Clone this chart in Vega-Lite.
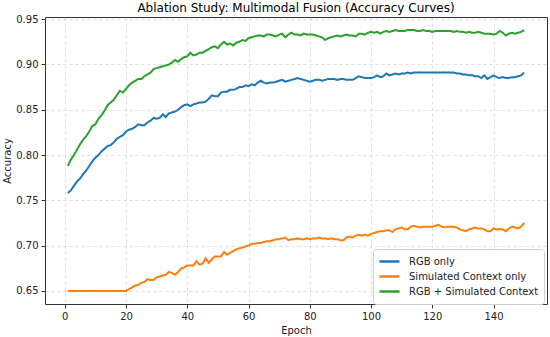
{
  "$schema": "https://vega.github.io/schema/vega-lite/v6.json",
  "width": 502,
  "height": 287,
  "autosize": {"type": "none"},
  "padding": {"left": 45, "top": 17, "right": 3, "bottom": 33},
  "background": "white",
  "title": {"text": "Ablation Study: Multimodal Fusion (Accuracy Curves)", "font": "DejaVu Sans", "fontSize": 12, "fontWeight": "normal", "color": "#000", "anchor": "middle", "offset": -1},
  "config": {
    "view": {"stroke": "#333", "strokeWidth": 1},
    "font": "DejaVu Sans"
  },
  "data": {"values": [
{"epoch":1,"a":0.758,"b":0.650,"c":0.788},
{"epoch":2,"a":0.761,"b":0.650,"c":0.795},
{"epoch":3,"a":0.766,"b":0.650,"c":0.800},
{"epoch":4,"a":0.771,"b":0.650,"c":0.806},
{"epoch":5,"a":0.774,"b":0.650,"c":0.812},
{"epoch":6,"a":0.779,"b":0.650,"c":0.817},
{"epoch":7,"a":0.783,"b":0.650,"c":0.821},
{"epoch":8,"a":0.788,"b":0.650,"c":0.826},
{"epoch":9,"a":0.793,"b":0.650,"c":0.832},
{"epoch":10,"a":0.797,"b":0.650,"c":0.834},
{"epoch":11,"a":0.800,"b":0.650,"c":0.840},
{"epoch":12,"a":0.804,"b":0.650,"c":0.844},
{"epoch":13,"a":0.807,"b":0.650,"c":0.849},
{"epoch":14,"a":0.810,"b":0.650,"c":0.855},
{"epoch":15,"a":0.811,"b":0.650,"c":0.858},
{"epoch":16,"a":0.814,"b":0.650,"c":0.861},
{"epoch":17,"a":0.818,"b":0.650,"c":0.866},
{"epoch":18,"a":0.820,"b":0.650,"c":0.871},
{"epoch":19,"a":0.822,"b":0.650,"c":0.869},
{"epoch":20,"a":0.826,"b":0.650,"c":0.873},
{"epoch":21,"a":0.828,"b":0.652,"c":0.877},
{"epoch":22,"a":0.829,"b":0.654,"c":0.880},
{"epoch":23,"a":0.831,"b":0.656,"c":0.882},
{"epoch":24,"a":0.834,"b":0.657,"c":0.884},
{"epoch":25,"a":0.833,"b":0.659,"c":0.884},
{"epoch":26,"a":0.833,"b":0.660,"c":0.887},
{"epoch":27,"a":0.836,"b":0.663,"c":0.889},
{"epoch":28,"a":0.838,"b":0.662,"c":0.891},
{"epoch":29,"a":0.841,"b":0.662,"c":0.895},
{"epoch":30,"a":0.840,"b":0.665,"c":0.896},
{"epoch":31,"a":0.841,"b":0.666,"c":0.897},
{"epoch":32,"a":0.845,"b":0.667,"c":0.898},
{"epoch":33,"a":0.842,"b":0.668,"c":0.899},
{"epoch":34,"a":0.846,"b":0.671,"c":0.900},
{"epoch":35,"a":0.847,"b":0.670,"c":0.902},
{"epoch":36,"a":0.848,"b":0.668,"c":0.905},
{"epoch":37,"a":0.850,"b":0.671,"c":0.903},
{"epoch":38,"a":0.853,"b":0.675,"c":0.906},
{"epoch":39,"a":0.855,"b":0.676,"c":0.908},
{"epoch":40,"a":0.856,"b":0.678,"c":0.909},
{"epoch":41,"a":0.854,"b":0.678,"c":0.913},
{"epoch":42,"a":0.856,"b":0.678,"c":0.910},
{"epoch":43,"a":0.857,"b":0.683,"c":0.911},
{"epoch":44,"a":0.858,"b":0.679,"c":0.913},
{"epoch":45,"a":0.858,"b":0.680,"c":0.913},
{"epoch":46,"a":0.859,"b":0.686,"c":0.915},
{"epoch":47,"a":0.862,"b":0.681,"c":0.917},
{"epoch":48,"a":0.866,"b":0.685,"c":0.919},
{"epoch":49,"a":0.865,"b":0.688,"c":0.920},
{"epoch":50,"a":0.865,"b":0.688,"c":0.918},
{"epoch":51,"a":0.869,"b":0.688,"c":0.922},
{"epoch":52,"a":0.870,"b":0.693,"c":0.925},
{"epoch":53,"a":0.870,"b":0.690,"c":0.922},
{"epoch":54,"a":0.872,"b":0.692,"c":0.923},
{"epoch":55,"a":0.872,"b":0.694,"c":0.921},
{"epoch":56,"a":0.873,"b":0.696,"c":0.924},
{"epoch":57,"a":0.875,"b":0.697,"c":0.925},
{"epoch":58,"a":0.875,"b":0.698,"c":0.927},
{"epoch":59,"a":0.877,"b":0.699,"c":0.926},
{"epoch":60,"a":0.876,"b":0.700,"c":0.929},
{"epoch":61,"a":0.878,"b":0.702,"c":0.930},
{"epoch":62,"a":0.877,"b":0.702,"c":0.931},
{"epoch":63,"a":0.880,"b":0.703,"c":0.932},
{"epoch":64,"a":0.882,"b":0.703,"c":0.932},
{"epoch":65,"a":0.880,"b":0.704,"c":0.931},
{"epoch":66,"a":0.879,"b":0.705,"c":0.933},
{"epoch":67,"a":0.880,"b":0.705,"c":0.933},
{"epoch":68,"a":0.880,"b":0.706,"c":0.932},
{"epoch":69,"a":0.881,"b":0.707,"c":0.931},
{"epoch":70,"a":0.882,"b":0.707,"c":0.933},
{"epoch":71,"a":0.883,"b":0.708,"c":0.934},
{"epoch":72,"a":0.881,"b":0.709,"c":0.930},
{"epoch":73,"a":0.882,"b":0.706,"c":0.933},
{"epoch":74,"a":0.883,"b":0.707,"c":0.935},
{"epoch":75,"a":0.884,"b":0.707,"c":0.933},
{"epoch":76,"a":0.885,"b":0.708,"c":0.933},
{"epoch":77,"a":0.884,"b":0.707,"c":0.932},
{"epoch":78,"a":0.883,"b":0.707,"c":0.934},
{"epoch":79,"a":0.882,"b":0.708,"c":0.933},
{"epoch":80,"a":0.881,"b":0.707,"c":0.933},
{"epoch":81,"a":0.882,"b":0.708,"c":0.933},
{"epoch":82,"a":0.883,"b":0.708,"c":0.932},
{"epoch":83,"a":0.883,"b":0.709,"c":0.931},
{"epoch":84,"a":0.882,"b":0.708,"c":0.930},
{"epoch":85,"a":0.883,"b":0.708,"c":0.927},
{"epoch":86,"a":0.884,"b":0.707,"c":0.929},
{"epoch":87,"a":0.884,"b":0.708,"c":0.930},
{"epoch":88,"a":0.884,"b":0.707,"c":0.931},
{"epoch":89,"a":0.883,"b":0.707,"c":0.932},
{"epoch":90,"a":0.884,"b":0.706,"c":0.931},
{"epoch":91,"a":0.884,"b":0.706,"c":0.932},
{"epoch":92,"a":0.883,"b":0.709,"c":0.933},
{"epoch":93,"a":0.883,"b":0.710,"c":0.932},
{"epoch":94,"a":0.883,"b":0.709,"c":0.932},
{"epoch":95,"a":0.885,"b":0.711,"c":0.931},
{"epoch":96,"a":0.887,"b":0.712,"c":0.934},
{"epoch":97,"a":0.886,"b":0.711,"c":0.934},
{"epoch":98,"a":0.885,"b":0.712,"c":0.933},
{"epoch":99,"a":0.885,"b":0.711,"c":0.935},
{"epoch":100,"a":0.885,"b":0.713,"c":0.936},
{"epoch":101,"a":0.886,"b":0.714,"c":0.935},
{"epoch":102,"a":0.888,"b":0.715,"c":0.936},
{"epoch":103,"a":0.886,"b":0.716,"c":0.934},
{"epoch":104,"a":0.887,"b":0.716,"c":0.936},
{"epoch":105,"a":0.890,"b":0.717,"c":0.937},
{"epoch":106,"a":0.888,"b":0.717,"c":0.936},
{"epoch":107,"a":0.889,"b":0.715,"c":0.937},
{"epoch":108,"a":0.890,"b":0.718,"c":0.938},
{"epoch":109,"a":0.889,"b":0.719,"c":0.937},
{"epoch":110,"a":0.890,"b":0.720,"c":0.937},
{"epoch":111,"a":0.890,"b":0.718,"c":0.937},
{"epoch":112,"a":0.891,"b":0.718,"c":0.938},
{"epoch":113,"a":0.890,"b":0.721,"c":0.938},
{"epoch":114,"a":0.891,"b":0.722,"c":0.938},
{"epoch":115,"a":0.891,"b":0.721,"c":0.937},
{"epoch":116,"a":0.891,"b":0.720,"c":0.937},
{"epoch":117,"a":0.891,"b":0.721,"c":0.938},
{"epoch":118,"a":0.891,"b":0.721,"c":0.937},
{"epoch":119,"a":0.891,"b":0.721,"c":0.937},
{"epoch":120,"a":0.891,"b":0.721,"c":0.936},
{"epoch":121,"a":0.891,"b":0.722,"c":0.937},
{"epoch":122,"a":0.891,"b":0.723,"c":0.937},
{"epoch":123,"a":0.891,"b":0.721,"c":0.937},
{"epoch":124,"a":0.891,"b":0.720,"c":0.937},
{"epoch":125,"a":0.891,"b":0.721,"c":0.937},
{"epoch":126,"a":0.891,"b":0.721,"c":0.937},
{"epoch":127,"a":0.891,"b":0.721,"c":0.936},
{"epoch":128,"a":0.890,"b":0.720,"c":0.937},
{"epoch":129,"a":0.890,"b":0.718,"c":0.936},
{"epoch":130,"a":0.889,"b":0.717,"c":0.936},
{"epoch":131,"a":0.889,"b":0.716,"c":0.935},
{"epoch":132,"a":0.888,"b":0.718,"c":0.936},
{"epoch":133,"a":0.888,"b":0.719,"c":0.935},
{"epoch":134,"a":0.887,"b":0.720,"c":0.935},
{"epoch":135,"a":0.887,"b":0.719,"c":0.936},
{"epoch":136,"a":0.885,"b":0.719,"c":0.935},
{"epoch":137,"a":0.888,"b":0.718,"c":0.934},
{"epoch":138,"a":0.884,"b":0.716,"c":0.934},
{"epoch":139,"a":0.886,"b":0.716,"c":0.934},
{"epoch":140,"a":0.888,"b":0.719,"c":0.933},
{"epoch":141,"a":0.886,"b":0.718,"c":0.934},
{"epoch":142,"a":0.885,"b":0.718,"c":0.937},
{"epoch":143,"a":0.886,"b":0.718,"c":0.935},
{"epoch":144,"a":0.885,"b":0.716,"c":0.932},
{"epoch":145,"a":0.885,"b":0.719,"c":0.934},
{"epoch":146,"a":0.886,"b":0.721,"c":0.935},
{"epoch":147,"a":0.886,"b":0.720,"c":0.934},
{"epoch":148,"a":0.887,"b":0.719,"c":0.935},
{"epoch":149,"a":0.888,"b":0.721,"c":0.936},
{"epoch":150,"a":0.891,"b":0.725,"c":0.938}
  ]},
  "transform": [
    {"fold": ["a", "b", "c"], "as": ["key", "accuracy"]},
    {"lookup": "key", "from": {"data": {"values": [
      {"key": "a", "series": "RGB only", "order": 1},
      {"key": "b", "series": "Simulated Context only", "order": 2},
      {"key": "c", "series": "RGB + Simulated Context", "order": 3}
    ]}, "key": "key", "fields": ["series", "order"]}}
  ],
  "mark": {"type": "line", "strokeWidth": 2, "clip": true},
  "encoding": {
    "x": {"field": "epoch", "type": "quantitative",
      "scale": {"domain": [-6.45, 157.45], "nice": false, "zero": false},
      "axis": {"values": [0, 20, 40, 60, 80, 100, 120, 140], "title": "Epoch", "domain": false,
        "grid": true, "gridDash": [3, 3], "gridColor": "#b0b0b0", "gridOpacity": 0.4,
        "tickColor": "#333", "tickSize": 4, "labelFontSize": 10, "labelColor": "#222", "labelPadding": 3,
        "titleFontSize": 10, "titleFontWeight": "normal", "titleColor": "#222", "titlePadding": 4}},
    "y": {"field": "accuracy", "type": "quantitative",
      "scale": {"domain": [0.6356, 0.9524], "nice": false, "zero": false},
      "axis": {"values": [0.65, 0.70, 0.75, 0.80, 0.85, 0.90, 0.95], "format": ".2f", "title": "Accuracy", "domain": false,
        "grid": true, "gridDash": [3, 3], "gridColor": "#b0b0b0", "gridOpacity": 0.4,
        "tickColor": "#333", "tickSize": 4, "labelFontSize": 10, "labelColor": "#222", "labelPadding": 3,
        "titleFontSize": 10, "titleFontWeight": "normal", "titleColor": "#222", "titlePadding": 3}},
    "color": {"field": "series", "type": "nominal",
      "scale": {"domain": ["RGB only", "Simulated Context only", "RGB + Simulated Context"], "range": ["#1f77b4", "#ff7f0e", "#2ca02c"]},
      "legend": {"title": null, "orient": "none", "legendX": 328, "legendY": 232,
        "symbolType": "stroke", "symbolSize": 400, "symbolStrokeWidth": 2.5,
        "labelFontSize": 10, "labelColor": "#222", "labelOffset": 8, "rowPadding": 0, "clipHeight": 15,
        "strokeColor": "#d0d0d0", "fillColor": "white", "cornerRadius": 3, "padding": 5}},
    "order": {"field": "order"},
    "detail": {"field": "series"}
  }
}
